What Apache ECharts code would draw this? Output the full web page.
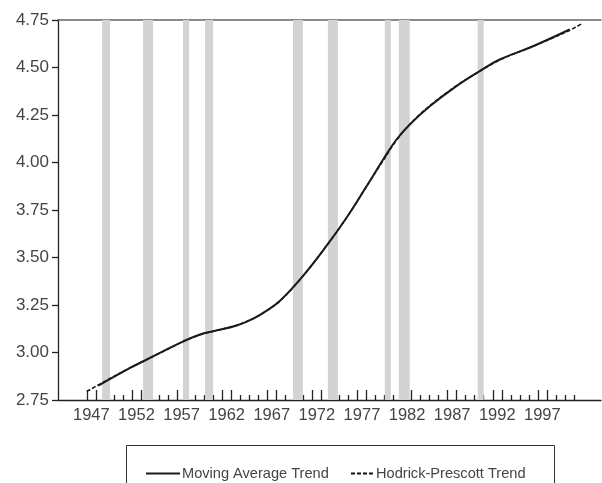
<!DOCTYPE html>
<html>
<head>
<meta charset="utf-8">
<script src="https://cdn.jsdelivr.net/npm/echarts@6/dist/echarts.min.js"></script>
<style>html,body{margin:0;padding:0;background:#fff;}#c{width:602px;height:483px;}</style>
</head>
<body>
<div id="c"></div>
<script>
// ---- data ----
const maYears  = [1948.28,1951.8,1953.27,1955.48,1957.7,1959.55,1961.02,1963.61,1965.45,1966.93,1968.41,1970.99,1973.58,1975.79,1978.01,1979.85,1981.33,1982.8,1985.02,1987.97,1990.55,1992.77,1996.46,2000.52];
const maValues = [2.826,2.919,2.954,3.007,3.059,3.095,3.112,3.142,3.178,3.220,3.272,3.405,3.562,3.709,3.875,4.016,4.121,4.200,4.296,4.402,4.481,4.542,4.612,4.700];
const hpYears  = [1947.0,1948.3,1951.8,1953.3,1955.5,1957.7,1959.55,1961.0,1963.6,1965.45,1966.9,1968.4,1971.0,1973.6,1975.8,1978.0,1979.85,1981.3,1982.8,1985.0,1988.0,1990.55,1992.8,1996.5,2000.5,2001.85];
const hpValues = [2.795,2.830,2.920,2.955,3.006,3.058,3.093,3.112,3.143,3.179,3.219,3.271,3.404,3.563,3.710,3.874,4.010,4.115,4.200,4.298,4.405,4.480,4.540,4.612,4.695,4.730];
const recessionStarts = [1948.69,1953.23,1957.66,1960.10,1969.85,1973.72,1980.03,1981.58,1990.33];
const recessionEnds   = [1949.58,1954.34,1958.33,1960.99,1970.95,1974.83,1980.70,1982.80,1991.00];
const xLabelYears = [1947,1952,1957,1962,1967,1972,1977,1982,1987,1992,1997];
const tickYears = []; for (let y = 1947; y <= 2001; y++) tickYears.push(y);

const tallTicks = tickYears.filter(y => ((y - 1947) % 5) <= 1);
const shortTicks = tickYears.filter(y => ((y - 1947) % 5) > 1);

const font = 'Liberation Sans';
const xMin = 1943.8, xMax = 2004.0;
const legendText = {fontFamily: font, fontSize: 14.6, color: '#444', padding: [0, 0, 0, -3]};

const chart = echarts.init(document.getElementById('c'), null, {renderer: 'canvas'});
chart.setOption({
  animation: false,
  backgroundColor: '#fff',
  grid: {left: 58, right: 1, top: 20, bottom: 83, containLabel: false},
  xAxis: [
    {
      type: 'value', min: xMin, max: xMax, position: 'bottom',
      axisLine: {show: true, onZero: false, lineStyle: {color: '#222', width: 1.3}},
      axisTick: {show: true, inside: true, length: 10, customValues: tallTicks, lineStyle: {color: '#222', width: 1.3}},
      axisLabel: {show: true, customValues: xLabelYears.map(y => y + 0.5), formatter: v => String(Math.floor(v)),
        margin: 7, fontFamily: font, fontSize: 16.5, color: '#444'},
      splitLine: {show: false}
    },
    {
      type: 'value', min: xMin, max: xMax, position: 'bottom',
      axisLine: {show: false},
      axisTick: {show: true, inside: true, length: 5, customValues: shortTicks, lineStyle: {color: '#222', width: 1.3}},
      axisLabel: {show: false}, splitLine: {show: false}
    },
    {
      type: 'value', min: xMin, max: xMax, position: 'top',
      axisLine: {show: true, onZero: false, lineStyle: {color: '#666', width: 1.5}},
      axisTick: {show: false}, axisLabel: {show: false}, splitLine: {show: false}
    }
  ],
  yAxis: {
    type: 'value', min: 2.75, max: 4.75, interval: 0.25,
    axisLine: {show: true, onZero: false, lineStyle: {color: '#222', width: 1.3}},
    axisTick: {show: true, inside: false, length: 6, lineStyle: {color: '#222', width: 1.3}},
    axisLabel: {margin: 9, fontFamily: font, fontSize: 17, color: '#444', formatter: v => v.toFixed(2)},
    splitLine: {show: false}
  },
  legend: [
    {
      left: 140, top: 461, itemWidth: 34, itemHeight: 14,
      itemStyle: {opacity: 0}, textStyle: legendText,
      data: ['Moving Average Trend']
    },
    {
      left: 345, top: 461, itemWidth: 23, itemHeight: 14,
      itemStyle: {opacity: 0}, textStyle: legendText,
      data: ['Hodrick-Prescott Trend']
    }
  ],
  graphic: [{
    type: 'rect', left: 124, top: 443, silent: true,
    shape: {width: 428, height: 60},
    style: {fill: 'none', stroke: '#333', lineWidth: 1}
  }],
  series: [
    {
      name: 'recessions', type: 'line', data: [], z: 1, silent: true,
      markArea: {silent: true, itemStyle: {color: '#d2d3d5'},
        data: recessionStarts.map((s, i) => [{xAxis: s}, {xAxis: recessionEnds[i]}])}
    },
    {
      name: 'Hodrick-Prescott Trend', type: 'line', z: 3, smooth: 0.4, symbol: 'none',
      data: hpYears.map((y, i) => [y, hpValues[i]]),
      lineStyle: {color: '#111', width: 1.5, type: [4, 2]},
      itemStyle: {color: '#111'}
    },
    {
      name: 'Moving Average Trend', type: 'line', z: 4, smooth: 0.4, symbol: 'none',
      data: maYears.map((y, i) => [y, maValues[i]]),
      lineStyle: {color: '#1a1a1a', width: 2},
      itemStyle: {color: '#1a1a1a'}
    }
  ]
});
</script>
</body>
</html>
